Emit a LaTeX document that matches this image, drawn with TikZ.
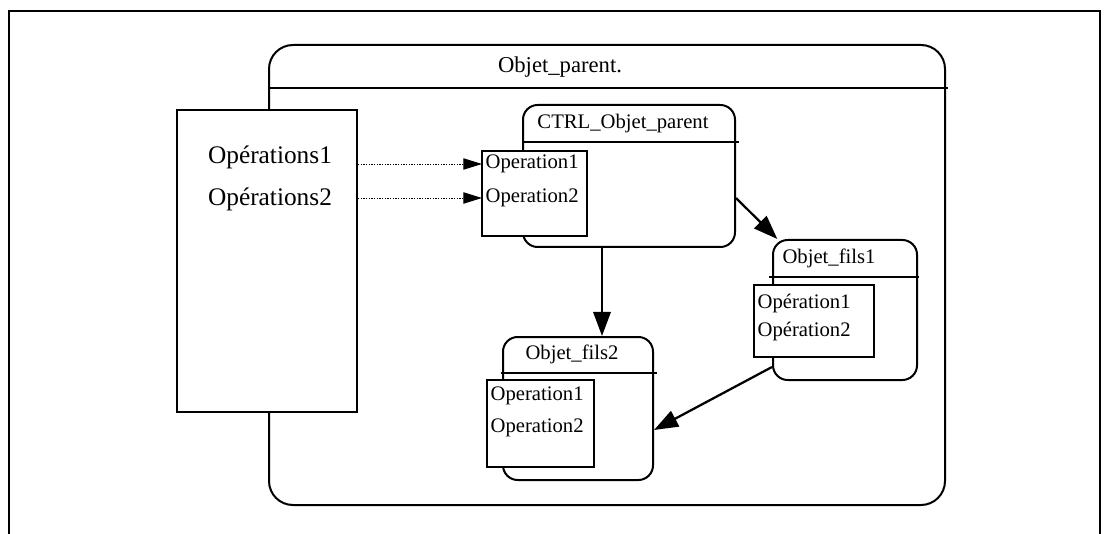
\documentclass[tikz,border=0pt]{standalone}
\usepackage{fontspec}
\setmainfont{Liberation Serif}
\usetikzlibrary{arrows.meta,fit}

\begin{document}
\begin{tikzpicture}[x=0.75pt,y=-0.75pt,
  objbox/.style={draw=black, fill=white, line width=1.5pt, rounded corners=11pt, inner sep=0pt},
  opsbox/.style={draw=black, fill=white, line width=1.2pt, inner sep=0pt},
  optext/.style={font=\fontsize{15.5}{18}\selectfont, anchor=west, inner sep=2.5pt},
  titre/.style={font=\fontsize{15.5}{18}\selectfont, inner sep=1pt},
  appel/.style={black, line width=0.7pt, dash pattern=on 1pt off 1pt, -{Triangle[length=14pt, width=8.5pt]}},
  flux/.style={black, line width=1.7pt, -{Triangle[length=18pt, width=13pt]}}]
\useasboundingbox (0,0) rectangle (1109,534);
\draw[line width=1.3pt] (9,534) -- (9,11) -- (1100,11) -- (1100,534);

% objet parent
\node[objbox, fill=none, rounded corners=18pt, fit={(269,45) (945,505)}] (parent) {};
\draw[line width=1.5pt] (parent.west |- 0,88) -- ([xshift=1.5pt]parent.east |- 0,88);
\node[font=\fontsize{17}{20}\selectfont] (parenttitre) at (560,67) {Objet\_parent.};

% interface
\node[opsbox, fill=white, line width=1.5pt, fit={(177,110) (357,412)}] (interface) {};
\node[font=\fontsize{19}{22}\selectfont] (ops1) at (270,157) {Opérations1};
\node[font=\fontsize{19}{22}\selectfont] (ops2) at (270,199) {Opérations2};

% controleur
\node[objbox, fit={(523,105) (735,247)}] (ctrl) {};
\draw[line width=1.5pt] (ctrl.west |- 0,142) -- ([xshift=2pt]ctrl.east |- 0,142);
\node[titre] (ctrltitre) at (623,124) {CTRL\_Objet\_parent};
\node[opsbox, fit={(482,151) (587,236)}] (ctrlops) {};
\node[optext] (c1) at (482,164) {Operation1};
\node[optext] (c2) at (482,198) {Operation2};

% fils 1
\node[objbox, fit={(773,240) (917,380)}] (fils1) {};
\draw[line width=1.5pt] ([xshift=-2pt]fils1.west |- 0,277) -- ([xshift=1pt]fils1.east |- 0,277);
\node[titre] (fils1titre) at (829,258) {Objet\_fils1};
\node[opsbox, fit={(754,285) (874,357)}] (fils1ops) {};
\node[optext] (f11) at (754,304) {Opération1};
\node[optext] (f12) at (754,332) {Opération2};

% fils 2
\node[objbox, fit={(503,337) (653,480)}] (fils2) {};
\draw[line width=1.5pt] ([xshift=-1pt]fils2.west |- 0,373) -- ([xshift=2pt]fils2.east |- 0,373);
\node[titre] (fils2titre) at (572,354) {Objet\_fils2};
\node[opsbox, fit={(487,380) (594,467)}] (fils2ops) {};
\node[optext] (f21) at (487,396) {Operation1};
\node[optext] (f22) at (487,428) {Operation2};

\draw[appel] (interface.east |- c1) -- (c1.west);
\draw[appel] (interface.east |- c2) -- (c2.west);
\draw[flux] (ctrl.east |- 0,198) -- ([xshift=4pt]fils1.north west);
\draw[flux] (ctrl.south -| 602,0) -- (fils2.north -| 602,0);
\draw[flux] (fils1.west |- 0,367) -- (fils2.east |- 0,430);
\end{tikzpicture}
\end{document}
